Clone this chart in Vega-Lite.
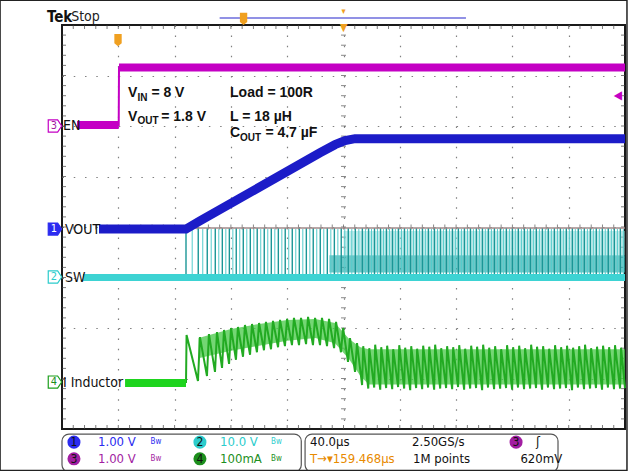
{
"$schema":"https://vega.github.io/schema/vega-lite/v6.json",
"width":563,"height":404,
"autosize":{"type":"none"},
"padding":{"left":62,"top":25,"right":3,"bottom":42},
"background":"#ffffff",
"config":{"view":{"stroke":"#1a1a1a","strokeWidth":2},"font":"DejaVu Sans Condensed"},
"datasets":{
"xt":[{"t":8},{"t":16},{"t":24},{"t":32},{"t":40},{"t":48},{"t":56},{"t":64},{"t":72},{"t":80},{"t":88},{"t":96},{"t":104},{"t":112},{"t":120},{"t":128},{"t":136},{"t":144},{"t":152},{"t":160},{"t":168},{"t":176},{"t":184},{"t":192},{"t":200},{"t":208},{"t":216},{"t":224},{"t":232},{"t":240},{"t":248},{"t":256},{"t":264},{"t":272},{"t":280},{"t":288},{"t":296},{"t":304},{"t":312},{"t":320},{"t":328},{"t":336},{"t":344},{"t":352},{"t":360},{"t":368},{"t":376},{"t":384},{"t":392}],
"yt":[{"v":-3.8},{"v":-3.6},{"v":-3.4},{"v":-3.2},{"v":-3},{"v":-2.8},{"v":-2.6},{"v":-2.4},{"v":-2.2},{"v":-2},{"v":-1.8},{"v":-1.6},{"v":-1.4},{"v":-1.2},{"v":-1},{"v":-0.8},{"v":-0.6},{"v":-0.4},{"v":-0.2},{"v":0},{"v":0.2},{"v":0.4},{"v":0.6},{"v":0.8},{"v":1},{"v":1.2},{"v":1.4},{"v":1.6},{"v":1.8},{"v":2},{"v":2.2},{"v":2.4},{"v":2.6},{"v":2.8},{"v":3},{"v":3.2},{"v":3.4},{"v":3.6},{"v":3.8}],
"sw":[{"t":88.1},{"t":96.8},{"t":103.2},{"t":108.9},{"t":113.9},{"t":118.9},{"t":123.8},{"t":128.8},{"t":133.8},{"t":138.7},{"t":143.7},{"t":148.7},{"t":153.7},{"t":158.6},{"t":163.6},{"t":168.6},{"t":173.6},{"t":178.5},{"t":183.5},{"t":188.5},{"t":193.5},{"t":198.4},{"t":203.4},{"t":208.4},{"t":213.4},{"t":217.8},{"t":222.0},{"t":226.3},{"t":230.5},{"t":234.8},{"t":239.0},{"t":243.3},{"t":247.6},{"t":251.8},{"t":256.1},{"t":260.3},{"t":264.6},{"t":268.9},{"t":273.1},{"t":277.4},{"t":281.6},{"t":285.9},{"t":290.2},{"t":294.4},{"t":298.7},{"t":302.9},{"t":307.2},{"t":311.5},{"t":315.7},{"t":320.0},{"t":324.2},{"t":328.5},{"t":332.8},{"t":337.0},{"t":341.3},{"t":345.5},{"t":349.8},{"t":354.1},{"t":358.3},{"t":362.6},{"t":366.8},{"t":371.1},{"t":375.4},{"t":379.6},{"t":383.9},{"t":388.1},{"t":392.4},{"t":396.7}],
"sw2":[{"t":92.5},{"t":100},{"t":106},{"t":111.4},{"t":116.4},{"t":121.4},{"t":126.3},{"t":131.3},{"t":136.3},{"t":141.2},{"t":146.2},{"t":151.2},{"t":156.2},{"t":161.1},{"t":166.1},{"t":171.1},{"t":176.1},{"t":181},{"t":186},{"t":191},{"t":196},{"t":200.9},{"t":205.9},{"t":210.9},{"t":215.6},{"t":219.9},{"t":224.2},{"t":228.4},{"t":232.7},{"t":236.9},{"t":241.2},{"t":245.5},{"t":249.7},{"t":254},{"t":258.2},{"t":262.5},{"t":266.8},{"t":271},{"t":275.3},{"t":279.5},{"t":283.8},{"t":288.1},{"t":292.3},{"t":296.6},{"t":300.8},{"t":305.1},{"t":309.4},{"t":313.6},{"t":317.9},{"t":322.1},{"t":326.4},{"t":330.7},{"t":334.9},{"t":339.2},{"t":343.4},{"t":347.7},{"t":352},{"t":356.2},{"t":360.5},{"t":364.7},{"t":369},{"t":373.3},{"t":377.5},{"t":381.8},{"t":386},{"t":390.3},{"t":394.6},{"t":398.8}],
"il":[{"t":88.1,"v":-3.09},{"t":88.5,"v":-2.14},{"t":96.6,"v":-3.05},{"t":98.0,"v":-2.18},{"t":103.0,"v":-2.95},{"t":104.4,"v":-2.12},{"t":108.7,"v":-2.87},{"t":110.1,"v":-2.08},{"t":113.7,"v":-2.79},{"t":115.1,"v":-2.04},{"t":118.7,"v":-2.71},{"t":120.1,"v":-2.00},{"t":123.6,"v":-2.63},{"t":125.0,"v":-1.98},{"t":128.6,"v":-2.57},{"t":130.0,"v":-1.94},{"t":133.6,"v":-2.53},{"t":135.0,"v":-1.92},{"t":138.5,"v":-2.48},{"t":140.0,"v":-1.90},{"t":143.5,"v":-2.44},{"t":144.9,"v":-1.88},{"t":148.5,"v":-2.42},{"t":149.9,"v":-1.86},{"t":153.5,"v":-2.38},{"t":154.9,"v":-1.84},{"t":158.4,"v":-2.36},{"t":159.9,"v":-1.82},{"t":163.4,"v":-2.34},{"t":164.8,"v":-1.80},{"t":168.4,"v":-2.34},{"t":169.8,"v":-1.80},{"t":173.4,"v":-2.32},{"t":174.8,"v":-1.78},{"t":178.3,"v":-2.34},{"t":179.8,"v":-1.80},{"t":183.3,"v":-2.34},{"t":184.7,"v":-1.80},{"t":188.3,"v":-2.36},{"t":189.7,"v":-1.82},{"t":193.3,"v":-2.40},{"t":194.7,"v":-1.88},{"t":198.2,"v":-2.48},{"t":199.7,"v":-2.00},{"t":203.2,"v":-2.67},{"t":204.6,"v":-2.20},{"t":208.2,"v":-2.87},{"t":209.6,"v":-2.30},{"t":213.2,"v":-3.13},
{"t":214.0,"v":-2.36},{"t":217.6,"v":-3.20},{"t":218.3,"v":-2.40},{"t":221.8,"v":-3.18},{"t":222.5,"v":-2.33},{"t":226.1,"v":-3.22},{"t":226.8,"v":-2.38},{"t":230.3,"v":-3.19},{"t":231.0,"v":-2.35},{"t":234.6,"v":-3.21},{"t":235.3,"v":-2.42},{"t":238.8,"v":-3.17},{"t":239.6,"v":-2.34},{"t":243.1,"v":-3.20},{"t":243.8,"v":-2.39},{"t":247.4,"v":-3.23},{"t":248.1,"v":-2.36},{"t":251.6,"v":-3.19},{"t":252.3,"v":-2.41},{"t":255.9,"v":-3.21},{"t":256.6,"v":-2.35},{"t":260.1,"v":-3.18},{"t":260.9,"v":-2.37},{"t":264.4,"v":-3.22},{"t":265.1,"v":-2.33},{"t":268.7,"v":-3.20},{"t":269.4,"v":-2.40},{"t":272.9,"v":-3.19},{"t":273.6,"v":-2.36},{"t":277.2,"v":-3.21},{"t":277.9,"v":-2.38},{"t":281.4,"v":-3.17},{"t":282.2,"v":-2.34},{"t":285.7,"v":-3.22},{"t":286.4,"v":-2.41},{"t":290.0,"v":-3.20},{"t":290.7,"v":-2.35},{"t":294.2,"v":-3.19},{"t":294.9,"v":-2.37},{"t":298.5,"v":-3.23},{"t":299.2,"v":-2.33},{"t":302.7,"v":-3.18},{"t":303.5,"v":-2.39},{"t":307.0,"v":-3.21},{"t":307.7,"v":-2.36},{"t":311.3,"v":-3.20},{"t":312.0,"v":-2.42},{"t":315.5,"v":-3.19},{"t":316.2,"v":-2.34},{"t":319.8,"v":-3.22},{"t":320.5,"v":-2.38},{"t":324.0,"v":-3.18},{"t":324.8,"v":-2.35},{"t":328.3,"v":-3.21},{"t":329.0,"v":-2.40},{"t":332.6,"v":-3.20},{"t":333.3,"v":-2.33},{"t":336.8,"v":-3.19},{"t":337.5,"v":-2.37},{"t":341.1,"v":-3.22},{"t":341.8,"v":-2.36},{"t":345.3,"v":-3.18},{"t":346.1,"v":-2.41},{"t":349.6,"v":-3.21},{"t":350.3,"v":-2.34},{"t":353.9,"v":-3.20},{"t":354.6,"v":-2.38},{"t":358.1,"v":-3.19},{"t":358.8,"v":-2.35},{"t":362.4,"v":-3.23},{"t":363.1,"v":-2.39},{"t":366.6,"v":-3.18},{"t":367.4,"v":-2.36},{"t":370.9,"v":-3.21},{"t":371.6,"v":-2.33},{"t":375.2,"v":-3.20},{"t":375.9,"v":-2.40},{"t":379.4,"v":-3.19},{"t":380.1,"v":-2.37},{"t":383.7,"v":-3.22},{"t":384.4,"v":-2.35},{"t":387.9,"v":-3.18},{"t":388.7,"v":-2.38},{"t":392.2,"v":-3.21},{"t":392.9,"v":-2.34},{"t":396.5,"v":-3.20},{"t":397.2,"v":-2.39},{"t":400.0,"v":-3.19}],
"ilband":[{"t":97,"v":-2.2,"v2":-2.6},{"t":120,"v":-2.02,"v2":-2.45},{"t":140,"v":-1.92,"v2":-2.35},{"t":160,"v":-1.84,"v2":-2.25},{"t":180,"v":-1.82,"v2":-2.2},{"t":194,"v":-1.9,"v2":-2.3},{"t":204,"v":-2.22,"v2":-2.62},{"t":212,"v":-2.38,"v2":-2.95},{"t":218,"v":-2.42,"v2":-3.12},{"t":400,"v":-2.42,"v2":-3.12}],
"en":[{"t":10.7,"v":2.02,"seg":"lo"},{"t":40.3,"v":2.02,"seg":"lo"},{"t":40.5,"v":3.16,"seg":"hi"},{"t":400,"v":3.16,"seg":"hi"}],
"vout":[{"t":26.3,"v":-0.04},{"t":88.1,"v":-0.04},{"t":98.0,"v":0.12},{"t":183.3,"v":1.47},{"t":194.0,"v":1.63},{"t":201.1,"v":1.71},{"t":208.2,"v":1.75},{"t":400,"v":1.75}],
"labels":[{"t":0.7,"v":2.0,"s":"EN"},{"t":2.1,"v":-0.06,"s":"VOUT"},{"t":2.1,"v":-1.01,"s":"SW"},{"t":0.7,"v":-3.09,"s":"I Inductor"}],
"gnd":[{"t":-5,"v":2.0,"ch":"3"},{"t":-5,"v":-0.04,"ch":"1"},{"t":-5,"v":-0.99,"ch":"2"},{"t":-5,"v":-3.07,"ch":"4"}],
"ann":[{"t":46.9,"v":2.65,"s":"V"},{"t":63.5,"v":2.65,"s":"= 8 V"},{"t":119.4,"v":2.65,"s":"Load  = 100R"},{"t":46.9,"v":2.18,"s":"V"},{"t":70.5,"v":2.18,"s":"= 1.8 V"},{"t":119.4,"v":2.18,"s":"L = 18 µH"},{"t":119.4,"v":1.86,"s":"C"},{"t":144.5,"v":1.86,"s":"= 4.7 µF"}],
"sub":[{"t":53.6,"v":2.56,"s":"IN"},{"t":53.6,"v":2.09,"s":"OUT"},{"t":126.5,"v":1.77,"s":"OUT"}],
"boxes":[{"t":0,"t2":170,"v":-4.1,"v2":-4.85},{"t":172.7,"t2":352.4,"v":-4.1,"v2":-4.85}],
"circ":[{"t":8.5,"v":-4.26,"ch":"1"},{"t":98,"v":-4.26,"ch":"2"},{"t":8.5,"v":-4.59,"ch":"3"},{"t":98,"v":-4.59,"ch":"4"},{"t":322.6,"v":-4.26,"ch":"3"}],
"stat":[{"t":25.6,"v":-4.26,"s":"1.00 V","ch":"1"},{"t":112.3,"v":-4.26,"s":"10.0 V","ch":"2"},{"t":176.2,"v":-4.26,"s":"40.0µs","ch":"k"},{"t":248.7,"v":-4.26,"s":"2.50GS/s","ch":"k"},{"t":25.6,"v":-4.59,"s":"1.00 V","ch":"3"},{"t":112.3,"v":-4.59,"s":"100mA","ch":"4"},{"t":176.2,"v":-4.59,"s":"T→▾159.468µs","ch":"o"},{"t":249.4,"v":-4.59,"s":"1M points","ch":"k"},{"t":325.7,"v":-4.59,"s":"620mV","ch":"k"},{"t":336.8,"v":-4.26,"s":"ʃ","ch":"k"}],
"bw":[{"t":66.8,"v":-4.26,"ch":"1"},{"t":152.3,"v":-4.26,"ch":"2"},{"t":66.8,"v":-4.59,"ch":"3"},{"t":152.3,"v":-4.59,"ch":"4"}]
},
"layer":[
{"data":{"name":"xt"},"mark":{"type":"tick","orient":"vertical","size":8,"thickness":1,"color":"#444444","clip":true},"encoding":{"x":{"field":"t","type":"quantitative"},"y":{"datum":4}}},
{"data":{"name":"xt"},"mark":{"type":"tick","orient":"vertical","size":8,"thickness":1,"color":"#444444","clip":true},"encoding":{"x":{"field":"t","type":"quantitative"},"y":{"datum":-4}}},
{"data":{"name":"xt"},"mark":{"type":"tick","orient":"vertical","size":5,"thickness":1,"color":"#555555","clip":true},"encoding":{"x":{"field":"t","type":"quantitative"},"y":{"datum":0}}},
{"data":{"name":"yt"},"mark":{"type":"tick","orient":"horizontal","size":8,"thickness":1,"color":"#444444","clip":true},"encoding":{"y":{"field":"v","type":"quantitative"},"x":{"datum":0}}},
{"data":{"name":"yt"},"mark":{"type":"tick","orient":"horizontal","size":8,"thickness":1,"color":"#444444","clip":true},"encoding":{"y":{"field":"v","type":"quantitative"},"x":{"datum":400}}},
{"data":{"name":"yt"},"mark":{"type":"tick","orient":"horizontal","size":5,"thickness":1,"color":"#555555","clip":true},"encoding":{"y":{"field":"v","type":"quantitative"},"x":{"datum":200}}},
{"data":{"values":[{"t":200,"t2":400,"v":-0.08,"v2":-0.56}]},"mark":{"type":"rect","color":"#8fdcdc","opacity":0.55},"encoding":{"x":{"field":"t","type":"quantitative"},"x2":{"field":"t2"},"y":{"field":"v","type":"quantitative"},"y2":{"field":"v2"}}},
{"data":{"values":[{"t":190,"t2":400,"v":-0.56,"v2":-0.9}]},"mark":{"type":"rect","color":"#2fb0b0","opacity":0.7},"encoding":{"x":{"field":"t","type":"quantitative"},"x2":{"field":"t2"},"y":{"field":"v","type":"quantitative"},"y2":{"field":"v2"}}},
{"data":{"name":"sw2"},"mark":{"type":"rule","color":"#55cccc","strokeWidth":1},"encoding":{"x":{"field":"t","type":"quantitative"},"y":{"datum":-1.0},"y2":{"datum":-0.04}}},
{"data":{"name":"sw"},"mark":{"type":"rule","color":"#1a9696","strokeWidth":1.4},"encoding":{"x":{"field":"t","type":"quantitative"},"y":{"datum":-1.0},"y2":{"datum":-0.02}}},
{"encoding":{
"x":{"field":"t","type":"quantitative","scale":{"domain":[0,400],"nice":false,"zero":false},"axis":{"values":[40,80,120,160,200,240,280,320,360],"grid":true,"gridColor":"#808080","gridDash":[1.5,8.6],"gridWidth":1.2,"domain":false,"ticks":false,"labels":false,"title":null}},
"y":{"field":"v","type":"quantitative","scale":{"domain":[-4,4],"nice":false,"zero":false},"axis":{"values":[-3,-2,-1,0,1,2,3],"grid":true,"gridColor":"#808080","gridDash":[1.5,9.76],"gridWidth":1.2,"domain":false,"ticks":false,"labels":false,"title":null}}
},
"layer":[
{"data":{"values":[{"t":88,"t2":400,"v":-0.02}]},"mark":{"type":"rule","color":"#a08a8a","strokeWidth":1.5},"encoding":{"x2":{"field":"t2"}}},
{"data":{"values":[{"t":14.9,"v":-1.0},{"t":400,"v":-1.0}]},"mark":{"type":"line","color":"#3dd3d3","strokeWidth":7},"encoding":{}},
{"data":{"name":"ilband"},"mark":{"type":"area","color":"#45c845","opacity":0.75},"encoding":{"y2":{"field":"v2"}}},
{"data":{"name":"il"},"mark":{"type":"line","color":"#22aa22","strokeWidth":2},"encoding":{}},
{"data":{"values":[{"t":44.8,"v":-3.09},{"t":88.1,"v":-3.09}]},"mark":{"type":"line","color":"#1ed41e","strokeWidth":8},"encoding":{}},
{"data":{"name":"en"},"mark":{"type":"line","color":"#c400c4","strokeWidth":2},"encoding":{}},
{"data":{"name":"en"},"mark":{"type":"line","color":"#c400c4","strokeWidth":8},"encoding":{"detail":{"field":"seg"}}},
{"data":{"name":"vout"},"mark":{"type":"line","color":"#1c1cc8","strokeWidth":9},"encoding":{}},
{"data":{"name":"labels"},"mark":{"type":"text","align":"left","baseline":"middle","fontSize":14,"font":"DejaVu Sans Condensed","color":"#111111"},"encoding":{"text":{"field":"s"}}},
{"data":{"name":"gnd"},"mark":{"type":"point","shape":"M-1,-0.9H0.4L1,0L0.4,0.9H-1Z","size":180,"filled":true,"fill":"#ffffff","strokeWidth":1.2,"opacity":1},"encoding":{"stroke":{"field":"ch","type":"nominal","scale":{"domain":["1","2","3","4"],"range":["#2b2bf0","#2ccccc","#c400c4","#1d9f1d"]},"legend":null}}},
{"data":{"name":"gnd"},"transform":[{"filter":"datum.ch == '1'"}],"mark":{"type":"point","shape":"M-1,-0.9H0.4L1,0L0.4,0.9H-1Z","size":180,"filled":true,"color":"#2b2bf0","opacity":1},"encoding":{}},
{"data":{"name":"gnd"},"transform":[{"filter":"datum.ch != '1'"}],"mark":{"type":"text","align":"center","baseline":"middle","fontSize":11,"dx":-1},"encoding":{"text":{"field":"ch"},"color":{"field":"ch","type":"nominal","scale":{"domain":["1","2","3","4","k","o"],"range":["#2b2bf0","#2ccccc","#a21ea2","#1d8f1d","#111111","#e88a00"]},"legend":null}}},
{"data":{"name":"gnd"},"transform":[{"filter":"datum.ch == '1'"}],"mark":{"type":"text","align":"center","baseline":"middle","fontSize":11,"dx":-1,"color":"#ffffff"},"encoding":{"text":{"field":"ch"}}},
{"data":{"name":"ann"},"mark":{"type":"text","align":"left","baseline":"middle","fontSize":14,"fontWeight":"bold","font":"Liberation Sans","color":"#111111"},"encoding":{"text":{"field":"s"}}},
{"data":{"name":"sub"},"mark":{"type":"text","align":"left","baseline":"middle","fontSize":10,"fontWeight":"bold","font":"Liberation Sans","color":"#111111"},"encoding":{"text":{"field":"s"}}},
{"data":{"values":[{"t":-10.7,"v":4.16,"s":"Tek"}]},"mark":{"type":"text","align":"left","baseline":"middle","fontSize":15,"fontWeight":"bold","font":"Liberation Sans Narrow, DejaVu Sans Condensed","color":"#111111"},"encoding":{"text":{"field":"s"}}},
{"data":{"values":[{"t":6.5,"v":4.16,"s":"Stop"}]},"mark":{"type":"text","align":"left","baseline":"middle","fontSize":14,"font":"Liberation Sans Narrow, DejaVu Sans Condensed","color":"#222222"},"encoding":{"text":{"field":"s"}}},
{"data":{"values":[{"t":112,"t2":287,"v":4.14}]},"mark":{"type":"rule","color":"#6c6cdc","strokeWidth":1.5},"encoding":{"x2":{"field":"t2"}}},
{"data":{"values":[{"t":129,"v":4.12},{"t":39.8,"v":3.7}]},"mark":{"type":"point","shape":"M-0.6,-1H0.6V0.5L0,1L-0.6,0.5Z","size":150,"filled":true,"color":"#f0a020","opacity":1},"encoding":{}},
{"data":{"values":[{"t":200,"v":3.95,"s":"▼"}]},"mark":{"type":"text","align":"center","baseline":"middle","fontSize":11,"color":"#f0a020"},"encoding":{"text":{"field":"s"}}},
{"data":{"values":[{"t":200,"v":4.27,"s":"▾"}]},"mark":{"type":"text","align":"center","baseline":"middle","fontSize":9,"color":"#f0a020"},"encoding":{"text":{"field":"s"}}},
{"data":{"values":[{"t":395,"v":2.61,"s":"◀"}]},"mark":{"type":"text","align":"center","baseline":"middle","fontSize":12,"color":"#c400c4"},"encoding":{"text":{"field":"s"}}},
{"data":{"name":"boxes"},"mark":{"type":"rect","fill":"#ffffff","stroke":"#555555","strokeWidth":1.2,"cornerRadius":7},"encoding":{"x2":{"field":"t2"},"y2":{"field":"v2"}}},
{"data":{"name":"circ"},"mark":{"type":"point","shape":"circle","size":170,"filled":true,"opacity":1},"encoding":{"color":{"field":"ch","type":"nominal","scale":{"domain":["1","2","3","4","k","o"],"range":["#2b2bf0","#2ccccc","#a21ea2","#1d8f1d","#111111","#e88a00"]},"legend":null}}},
{"data":{"name":"circ"},"mark":{"type":"text","align":"center","baseline":"middle","fontSize":12,"color":"#111111"},"encoding":{"text":{"field":"ch"}}},
{"data":{"name":"stat"},"mark":{"type":"text","align":"left","baseline":"middle","fontSize":13,"font":"DejaVu Sans Condensed"},"encoding":{"text":{"field":"s"},"color":{"field":"ch","type":"nominal","scale":{"domain":["1","2","3","4","k","o"],"range":["#2b2bf0","#2ccccc","#a21ea2","#1d8f1d","#111111","#e88a00"]},"legend":null}}},
{"data":{"name":"bw"},"mark":{"type":"text","align":"center","baseline":"middle","fontSize":8,"font":"DejaVu Sans Condensed","text":"Bw"},"encoding":{"color":{"field":"ch","type":"nominal","scale":{"domain":["1","2","3","4","k","o"],"range":["#2b2bf0","#2ccccc","#a21ea2","#1d8f1d","#111111","#e88a00"]},"legend":null}}},
{"data":{"values":[{"t":-44,"t2":401.4,"v":4.49,"v2":-4.82}]},"mark":{"type":"rect","filled":false,"stroke":"#222222","strokeWidth":1.5},"encoding":{"x2":{"field":"t2"},"y2":{"field":"v2"}}}
]
}
]
}
